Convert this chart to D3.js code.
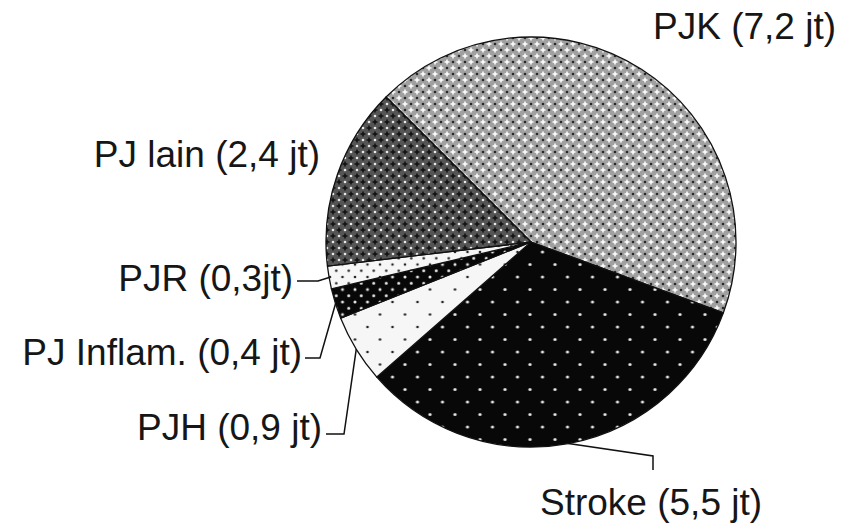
<!DOCTYPE html>
<html>
<head>
<meta charset="utf-8">
<script src="https://cdn.jsdelivr.net/npm/d3@7"></script>
<style>
  html, body { margin: 0; padding: 0; background: #fff; }
  svg { display: block; }
  text { font-family: "Liberation Sans", Arial, sans-serif; fill: #161616; }
</style>
</head>
<body>
<svg id="chart" width="842" height="524"></svg>
<script>
// ---- data ----
const categories = ["PJK", "Stroke", "PJH", "PJ Inflam.", "PJR", "PJ lain"];
const values = [7.2, 5.5, 0.9, 0.4, 0.3, 2.4];
const labels = ["PJK (7,2 jt)", "Stroke (5,5 jt)", "PJH (0,9 jt)", "PJ Inflam. (0,4 jt)", "PJR (0,3jt)", "PJ lain (2,4 jt)"];

// ---- layout ----
const W = 842, H = 524;
const cx = 531, cy = 242, R = 205;
const svg = d3.select("#chart");
const defs = svg.append("defs");

// patterns
function latticePattern(id, size, bg, dotColor, dotR) {
  const p = defs.append("pattern").attr("id", id).attr("patternUnits", "userSpaceOnUse")
    .attr("width", size).attr("height", size).attr("x", 11.5).attr("y", 10);
  p.append("rect").attr("width", size).attr("height", size).attr("fill", bg);
  [[0, 0], [size, 0], [0, size], [size, size], [size / 2, size / 2]].forEach(([x, y]) =>
    p.append("circle").attr("cx", x).attr("cy", y).attr("r", dotR).attr("fill", dotColor));
}
function crossPattern(id, bg, crossColor, dotColor) {
  const s = 12;
  const p = defs.append("pattern").attr("id", id).attr("patternUnits", "userSpaceOnUse")
    .attr("width", s).attr("height", s);
  p.append("rect").attr("width", s).attr("height", s).attr("fill", bg);
  const plus = (x, y) => {
    p.append("rect").attr("x", x - 2.5).attr("y", y - 0.75).attr("width", 5).attr("height", 1.5).attr("fill", crossColor);
    p.append("rect").attr("x", x - 0.75).attr("y", y - 2.5).attr("width", 1.5).attr("height", 5).attr("fill", crossColor);
  };
  [[0,0],[s,0],[0,s],[s,s],[6,6]].forEach(([x,y]) => plus(x,y));
  [[6,0],[0,6],[12,6],[6,12]].forEach(([x,y]) =>
    p.append("circle").attr("cx", x).attr("cy", y).attr("r", 1.3).attr("fill", dotColor));
}
crossPattern("pjk", "#a0a0a0", "#ffffff", "#2a2a2a");
crossPattern("lain", "#555555", "#0e0e0e", "#e8e8e8");
latticePattern("stroke", 25, "#080808", "#e6e6e6", 1.6);
latticePattern("pjh", 25, "#f6f6f6", "#222222", 1.3);
latticePattern("inflam", 12.5, "#080808", "#e8e8e8", 1.5);
latticePattern("pjr", 12.5, "#f6f6f6", "#222222", 1.3);
const fills = ["url(#pjk)", "url(#stroke)", "url(#pjh)", "url(#inflam)", "url(#pjr)", "url(#lain)"];

const data = categories.map((c, i) => ({ cat: c, value: values[i], label: labels[i], fill: fills[i] }));

const pie = d3.pie().sort(null).value(d => d.value)
  .startAngle(-Math.PI / 4).endAngle(-Math.PI / 4 + 2 * Math.PI);
const arcs = pie(data);
const arc = d3.arc().innerRadius(0).outerRadius(R);

const g = svg.append("g").attr("transform", `translate(${cx},${cy})`);
g.selectAll("path.slice").data(arcs).join("path")
  .attr("class", "slice")
  .attr("d", arc)
  .attr("fill", d => d.data.fill)
  .attr("stroke", "#111")
  .attr("stroke-width", 1.3)
  .attr("stroke-linejoin", "round");

// label layout: text x, baseline y, anchor, leader elbow points (absolute) or null
const labelLayout = {
  "PJK": { x: 836, y: 39, anchor: "end", leader: null },
  "Stroke": { x: 540, y: 515, anchor: "start", leader: [[653, 456], [653, 470]] },
  "PJH": { x: 322, y: 440, anchor: "end", leader: [[344, 434], [326, 434]] },
  "PJ Inflam.": { x: 302, y: 365, anchor: "end", leader: [[320, 358], [305, 358]] },
  "PJR": { x: 293, y: 291, anchor: "end", leader: [[318, 281], [297, 281]] },
  "PJ lain": { x: 320, y: 167, anchor: "end", leader: null }
};

const line = d3.line();
arcs.forEach(a => {
  const L = labelLayout[a.data.cat];
  if (L.leader) {
    const mid = (a.startAngle + a.endAngle) / 2;
    const p0 = [cx + R * Math.sin(mid), cy - R * Math.cos(mid)];
    svg.append("path")
      .attr("d", line([p0, ...L.leader]))
      .attr("fill", "none").attr("stroke", "#111").attr("stroke-width", 1.5);
  }
  svg.append("text")
    .attr("x", L.x).attr("y", L.y)
    .attr("text-anchor", L.anchor)
    .attr("font-size", 37)
    .text(a.data.label);
});
</script>
</body>
</html>
